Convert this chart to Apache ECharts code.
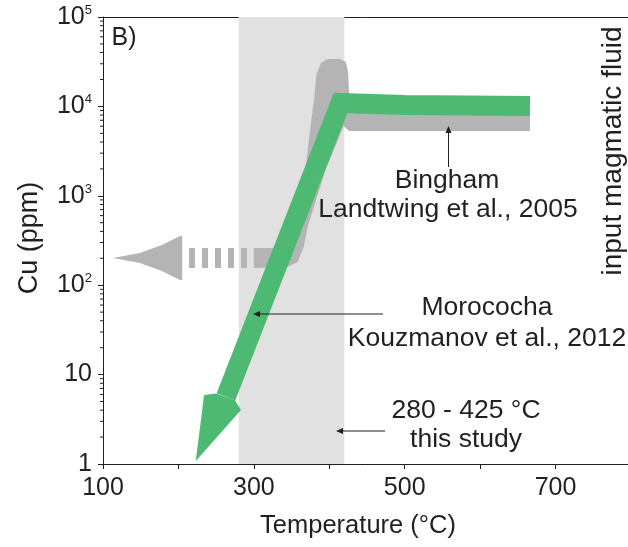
<!DOCTYPE html>
<html>
<head>
<meta charset="utf-8">
<script src="https://cdn.jsdelivr.net/npm/echarts@6/dist/echarts.min.js"></script>
<style>
  html, body { margin: 0; padding: 0; background: #fff; }
  #chart { width: 628px; height: 547px; }
</style>
</head>
<body>
<div id="chart"></div>
<script>
// data: temperature (°C) vs Cu (ppm)
var studyRange = [280, 420];
var xTickLabels = [100, 300, 500, 700];

// Bingham (Landtwing et al., 2005) - grey envelope
var binghamBody = [
  [300, 261], [328, 261], [341, 282], [350, 329], [357, 459], [362, 789],
  [368, 1800], [374, 5040], [380, 12400], [383, 23000], [389, 30600],
  [398, 33900], [414, 33900], [422, 31400], [425, 24300], [426, 15200],
  [427, 9600], [666, 9600], [666, 5310], [426, 5310], [419, 6040],
  [395, 1944], [372, 471], [366, 268], [358, 182], [345, 160], [300, 156]
];
var binghamDashes = [[214, 201], [291, 201]];
var binghamHead = [
  [113, 201], [149, 229], [178, 282], [202, 355], [205, 355],
  [205, 114], [202, 114], [178, 144], [149, 177]
];

// Morococha (Kouzmanov et al., 2012) - green path
var morocochaPath = [[666, 10100], [500, 10370], [415, 10920], [263, 5.62]];
var morocochaHead = [[234, 5.91], [223, 1.08], [283, 4.02], [275, 5.15], [250, 6.13]];

// minor ticks of the log axis
var yMinorTicks = [];
[1, 10, 100, 1000, 10000].forEach(function (d) {
  [2, 3, 4, 5, 6, 7, 8, 9].forEach(function (m) { yMinorTicks.push(m * d); });
});

var ink = '#231f20';
var font = '"Liberation Sans", Arial, sans-serif';
var grey = '#b4b4b4';
var green = '#4db973';

var myChart = echarts.init(document.getElementById('chart'));

function polygonItem(points, color) {
  return function (params, api) {
    if (params.dataIndex !== 0) return null;
    return {
      type: 'polygon',
      shape: { points: points.map(function (p) { return api.coord(p); }) },
      style: { fill: color }
    };
  };
}

function txt(text, x, y, size, rot) {
  return {
    type: 'text', x: x, y: y, rotation: rot || 0, z: 100,
    style: {
      text: text, fill: ink, fontSize: size, fontFamily: font,
      align: 'center', verticalAlign: 'middle',
      textAlign: 'center', textVerticalAlign: 'middle'
    }
  };
}

function arrow(x1, y1, x2, y2) {
  // thin annotation arrow, head at (x2, y2)
  var dx = x2 - x1, dy = y2 - y1, len = Math.sqrt(dx * dx + dy * dy);
  var ux = dx / len, uy = dy / len, hl = 7, hw = 3;
  var bx = x2 - ux * hl, by = y2 - uy * hl;
  return [
    { type: 'line', z: 100, shape: { x1: x1, y1: y1, x2: bx, y2: by }, style: { stroke: ink, lineWidth: 1 } },
    { type: 'polygon', z: 100, shape: { points: [[x2, y2], [bx - uy * hw, by + ux * hw], [bx + uy * hw, by - ux * hw]] }, style: { fill: ink } }
  ];
}

var option = {
  animation: false,
  grid: { left: 103, right: -3, top: 17, bottom: 83, containLabel: false, outerBoundsMode: 'none' },
  xAxis: [{
    type: 'value', min: 100, max: 800, interval: 100,
    axisLine: { lineStyle: { color: ink, width: 1 } },
    axisTick: { length: 5, lineStyle: { color: ink } },
    splitLine: { show: false },
    axisLabel: {
      color: ink, fontSize: 25, fontFamily: font, margin: 12,
      formatter: function (v) { return xTickLabels.indexOf(v) >= 0 ? String(v) : ''; }
    }
  }, {
    type: 'value', min: 100, max: 800, position: 'top',
    axisLine: { show: true, lineStyle: { color: ink, width: 1 } },
    axisTick: { show: false }, axisLabel: { show: false }, splitLine: { show: false }
  }],
  yAxis: {
    type: 'log', logBase: 10, min: 1, max: 100000,
    axisLine: { show: true, lineStyle: { color: ink, width: 1 } },
    axisTick: { show: true, length: 5, lineStyle: { color: ink } },
    splitLine: { show: false },
    axisLabel: {
      color: ink, fontSize: 25, fontFamily: font, margin: 11,
      formatter: function (v) {
        if (v < 100) return String(Math.round(v));
        return '{b|10}{s|' + Math.round(Math.log10(v)) + '}';
      },
      rich: {
        b: { fontSize: 25, fontFamily: font, color: ink, lineHeight: 26 },
        s: { fontSize: 13, fontFamily: font, color: ink, verticalAlign: 'top', lineHeight: 13 }
      }
    }
  },
  series: [{
    type: 'line', data: [], z: 1,
    markArea: {
      silent: true,
      itemStyle: { color: '#e1e1e1' },
      data: [[{ xAxis: studyRange[0] }, { xAxis: studyRange[1] }]]
    }
  }, {
    type: 'custom', z: 2, data: binghamBody,
    renderItem: polygonItem(binghamBody, grey)
  }, {
    type: 'custom', z: 2, data: binghamHead,
    renderItem: polygonItem(binghamHead, grey)
  }, {
    type: 'line', z: 2, data: binghamDashes, showSymbol: false, symbol: 'none',
    lineStyle: { color: grey, width: 20, type: [6, 7], cap: 'butt' }
  }, {
    type: 'line', z: 3, data: morocochaPath, showSymbol: false, symbol: 'none',
    lineStyle: { color: green, width: 20, join: 'miter', cap: 'butt' }
  }, {
    type: 'custom', z: 3, data: morocochaHead,
    renderItem: polygonItem(morocochaHead, green)
  }, {
    type: 'custom', z: 4, data: yMinorTicks.map(function (v) { return [100, v]; }),
    renderItem: function (params, api) {
      var p = api.coord([api.value(0), api.value(1)]);
      return {
        type: 'line',
        shape: { x1: p[0] - 3, y1: p[1], x2: p[0], y2: p[1] },
        style: { stroke: ink, lineWidth: 1 }
      };
    }
  }],
  graphic: [
    txt('B)', 124, 38, 25),
    txt('Cu (ppm)', 30, 238, 27, Math.PI / 2),
    txt('Temperature (°C)', 358, 526, 25.5),
    txt('input magmatic fluid', 613, 151, 28, Math.PI / 2),
    txt('Bingham', 447, 181, 26.5),
    txt('Landtwing et al., 2005', 448, 210, 26.5),
    txt('Morococha', 487, 308, 26.5),
    txt('Kouzmanov et al., 2012', 487, 339, 26.5),
    txt('280 - 425 °C', 466, 411, 26.5),
    txt('this study', 466, 440, 26.5)
  ].concat(arrow(448.5, 167, 448.5, 126), arrow(383, 314, 253, 314), arrow(385, 431, 336, 431))
};

myChart.setOption(option);
window.addEventListener('resize', function () {
  myChart.resize();
});
</script>
</body>
</html>
